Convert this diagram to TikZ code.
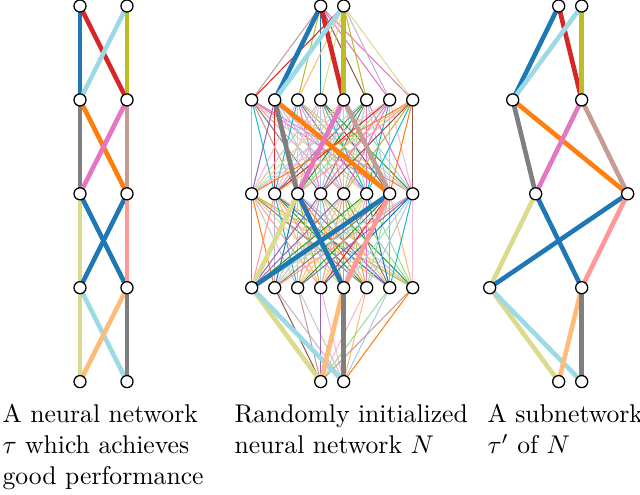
\documentclass[tikz,border=0pt]{standalone}
\usepackage{amsmath}

% tab20 palette
\definecolor{tc1}{HTML}{1F77B4}\definecolor{tc2}{HTML}{AEC7E8}
\definecolor{tc3}{HTML}{FF7F0E}\definecolor{tc4}{HTML}{FFBB78}
\definecolor{tc5}{HTML}{2CA02C}\definecolor{tc6}{HTML}{98DF8A}
\definecolor{tc7}{HTML}{D62728}\definecolor{tc8}{HTML}{FF9896}
\definecolor{tc9}{HTML}{9467BD}\definecolor{tc10}{HTML}{C5B0D5}
\definecolor{tc11}{HTML}{8C564B}\definecolor{tc12}{HTML}{C49C94}
\definecolor{tc13}{HTML}{E377C2}\definecolor{tc14}{HTML}{F7B6D2}
\definecolor{tc15}{HTML}{7F7F7F}\definecolor{tc16}{HTML}{C7C7C7}
\definecolor{tc17}{HTML}{BCBD22}\definecolor{tc18}{HTML}{DBDB8D}
\definecolor{tc19}{HTML}{17BECF}\definecolor{tc20}{HTML}{9EDAE5}

\pgfdeclarelayer{edges}
\pgfsetlayers{edges,main}

\begin{document}
\begin{tikzpicture}[x=0.39pt,y=-0.39pt,
    neuron/.style={circle,draw,fill=white,inner sep=0pt,minimum size=4.7pt,line width=0.5pt},
    weight/.style={line width=1.8pt},
    faint/.style={line width=0.4pt},
    caption/.style={anchor=north west,align=left,inner sep=0pt}]
  \useasboundingbox (0,0) rectangle (640,495);
  % random network N
  \foreach \r in {1,2,3}
    \foreach \k in {0,...,7}
      \node[neuron] (m\r-\k) at ({251.7+23*\k},{6+93.9*\r}) {};
  \foreach \r in {0,4}
    \foreach \k in {3,4}
      \node[neuron] (m\r-\k) at ({251.7+23*\k},{6+93.9*\r}) {};
  % good network and subnetwork
  \foreach \r/\i/\j in {0/3/4,1/1/4,2/2/6,3/0/4,4/3/4} {
    \node[neuron] (l\r-\i) at (80,{6+93.9*\r}) {};
    \node[neuron] (l\r-\j) at (127,{6+93.9*\r}) {};
    \node[neuron] (s\r-\i) at ({489.7+23*\i},{6+93.9*\r}) {};
    \node[neuron] (s\r-\j) at ({489.7+23*\j},{6+93.9*\r}) {};
  }
  \begin{pgfonlayer}{edges}
    % all weights of N
    \pgfmathsetseed{4711}
    \foreach \r/\s/\A/\B in {0/1/{3,4}/{0,...,7},1/2/{0,...,7}/{0,...,7},
                             2/3/{0,...,7}/{0,...,7},3/4/{0,...,7}/{3,4}}
      \foreach \i in \A
        \foreach \j in \B {
          \pgfmathrandominteger{\c}{1}{20}
          \draw[faint,tc\c] (m\r-\i.center) -- (m\s-\j.center);
        }
    % weights that matter
    \foreach \net in {l,m,s}
      \foreach \a/\b/\col in {0-3/1-1/tc1,0-3/1-4/tc7,0-4/1-1/tc20,0-4/1-4/tc17,
                              1-1/2-2/tc15,1-1/2-6/tc3,1-4/2-2/tc13,1-4/2-6/tc12,
                              2-2/3-0/tc18,2-2/3-4/tc1,2-6/3-0/tc1,2-6/3-4/tc8,
                              3-0/4-3/tc18,3-0/4-4/tc20,3-4/4-3/tc4,3-4/4-4/tc15}
        \draw[weight,\col] (\net\a.center) -- (\net\b.center);
  \end{pgfonlayer}
  % captions
  \node[caption] (tau) at (2,404) {A neural network\\ $\tau$ which achieves\\ good performance};
  \node[caption] (N) at (234,404) {Randomly initialized\\ neural network $N$};
  \node[caption] (sub) at (487,404) {A subnetwork\\ $\tau'$ of $N$};
\end{tikzpicture}
\end{document}
